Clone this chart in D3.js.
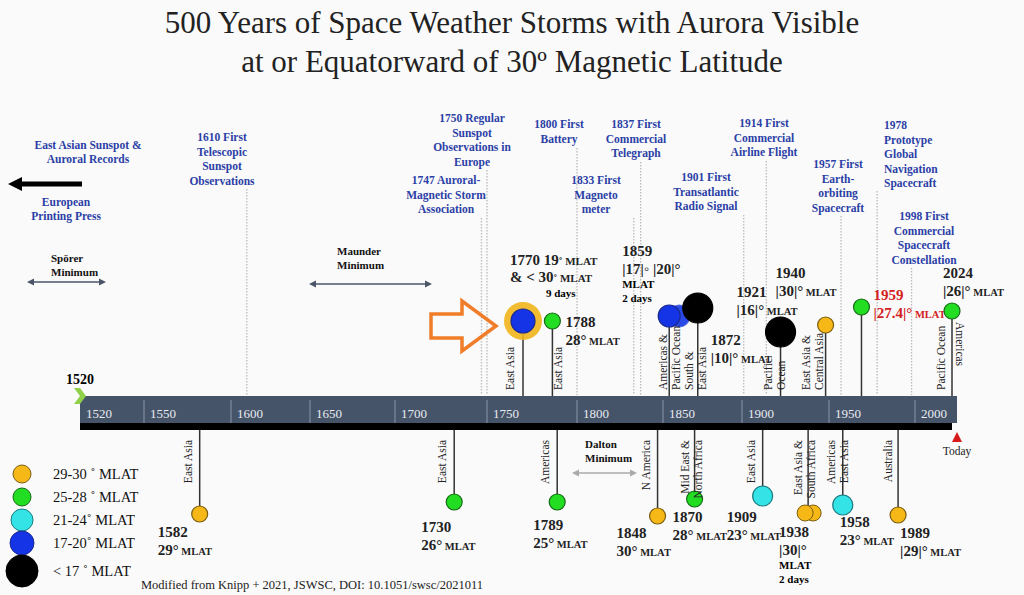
<!DOCTYPE html>
<html><head><meta charset="utf-8">
<script src="https://cdn.jsdelivr.net/npm/d3@7"></script>
<style>body{margin:0;background:#fafafa}</style>
</head><body><div id="chart"></div>
<script>
// axis ticks
const tickYears = [1550, 1600, 1650, 1700, 1750, 1800, 1850, 1900, 1950, 2000];
const firstYear = 1520, lastYear = 2024;

// storms: year, label lines, colour class, above/below bar
const stormYears = [1582, 1730, 1770, 1788, 1789, 1848, 1859, 1870, 1872, 1909, 1921, 1938, 1940, 1958, 1959, 1989, 2024];
const stormMlat = ["29° MLAT", "26° MLAT", "19° MLAT", "28° MLAT", "25° MLAT", "30° MLAT", "|17|◦ |20|°", "28° MLAT", "|10|° MLAT",
  "23° MLAT", "|16|° MLAT", "|30|°", "|30|° MLAT", "23° MLAT", "|27.4|° MLAT", "|29|° MLAT", "|26|° MLAT"];
const stormClass = [0, 1, 3, 1, 1, 0, 3, 1, 4, 2, 4, 0, 0, 2, 1, 0, 1];
const stormSide = ["down", "down", "up", "up", "down", "down", "up", "down", "up", "down", "up", "down", "up", "down", "up", "down", "up"];
const stormRegion = [["East Asia"], ["East Asia"], ["East Asia"], ["East Asia"], ["Americas"], ["N America"], ["Americas &", "Pacific Ocean"],
  ["Mid East &", "North Africa"], ["South &", "East Asia"], ["East Asia"], ["Pacific", "Ocean"], ["East Asia &", "South Africa"],
  ["East Asia &", "Central Asia"], ["Americas", "East Asia"], [], ["Australia"], ["Pacific Ocean", "Americas"]];

// legend
const legendLabels = ["29-30 ˚ MLAT", "25-28 ˚ MLAT", "21-24˚ MLAT", "17-20˚ MLAT", "< 17 ˚ MLAT"];
const legendColors = ["#f5b817", "#22dd22", "#33e3e6", "#1434e6", "#000000"];

// technology milestones
const techYears = [1610, 1747, 1750, 1800, 1833, 1837, 1901, 1914, 1957, 1978, 1998];
const techLabels = [["1610 First", "Telescopic", "Sunspot", "Observations"], ["1747  Auroral-", "Magnetic Storm", "Association"],
  ["1750  Regular", "Sunspot", "Observations in", "Europe"], ["1800 First", "Battery"], ["1833 First", "Magneto", "meter"],
  ["1837 First", "Commercial", "Telegraph"], ["1901 First", "Transatlantic", "Radio Signal"], ["1914 First", "Commercial", "Airline Flight"],
  ["1957 First", "Earth-", "orbiting", "Spacecraft"], ["1978", "Prototype", "Global", "Navigation", "Spacecraft"],
  ["1998  First", "Commercial", "Spacecraft", "Constellation"]];

// layout (pixel placement only)
const W = 1024, H = 595, barTop = 396, barMid = 423, barBot = 430;
const stormLayout = [ // dx nudge, circle y, radius, label x offset, label y, region x offset
  {dx: 0, cy: 514, r: 8, lx: -42, ly: 537, rx: -8},
  {dx: 4, cy: 502, r: 8, lx: -33, ly: 532, rx: -8},
  {dx: 0, cy: 321, r: 12, lx: -13, ly: 265, rx: -9},
  {dx: -3, cy: 321, r: 8, lx: 13, ly: 327, rx: 10},
  {dx: 0, cy: 502, r: 8, lx: -24, ly: 530, rx: -8},
  {dx: -2, cy: 516, r: 8, lx: -41, ly: 538, rx: -8},
  {dx: -8, cy: 316, r: 11, lx: -47, ly: 256, rx: -2},
  {dx: 0, cy: 499, r: 8, lx: -22, ly: 522, rx: -6},
  {dx: 0, cy: 308, r: 15, lx: 13, ly: 345, rx: -5},
  {dx: 5, cy: 496, r: 10, lx: -36, ly: 522, rx: -8},
  {dx: 2, cy: 332, r: 15, lx: -44, ly: 297, rx: -9},
  {dx: 0, cy: 513, r: 8, lx: -29, ly: 537, rx: -6},
  {dx: 14, cy: 325, r: 8, lx: -50, ly: 278, rx: -16},
  {dx: 0, cy: 505, r: 10, lx: -3, ly: 527, rx: -8},
  {dx: 17, cy: 307, r: 8, lx: 12, ly: 300, rx: 0},
  {dx: 2, cy: 515, r: 8, lx: 2, ly: 538, rx: -6},
  {dx: -5, cy: 311, r: 8, lx: -9, ly: 278, rx: -7}
];
const techLayout = [ // text centre x, first line y
  {x: 222, y: 141}, {x: 446, y: 184}, {x: 472, y: 122}, {x: 559, y: 128},
  {x: 596, y: 184}, {x: 636, y: 128}, {x: 706, y: 181}, {x: 764, y: 127},
  {x: 838, y: 168}, {x: 884, y: 129, left: true}, {x: 924, y: 220}
];

const x = d3.scaleLinear()
  .domain([1520, 1550, 1600, 1650, 1700, 1750, 1800, 1850, 1900, 1950, 2000, 2024])
  .range([80, 144, 231, 310, 395, 487, 577, 663, 742, 829, 915, 957]);

const svg = d3.select("#chart").append("svg").attr("width", W).attr("height", H)
  .attr("font-family", "'Liberation Serif', 'DejaVu Serif', serif")
  .style("background", "#fafafa");

// title
svg.append("text").attr("x", 512).attr("y", 33).attr("text-anchor", "middle").attr("font-size", 31)
  .attr("fill", "#222").text("500 Years of  Space Weather Storms with Aurora Visible");
svg.append("text").attr("x", 512).attr("y", 72).attr("text-anchor", "middle").attr("font-size", 31)
  .attr("fill", "#222").text("at or Equatorward of 30º Magnetic Latitude");

const blue = "#2b3fa6";
// tech milestones
techYears.forEach((yr, i) => {
  const L = techLayout[i], xx = x(yr);
  const n = techLabels[i].length;
  svg.append("line").attr("x1", xx).attr("x2", xx).attr("y1", L.y + (n - 1) * 14 + 6).attr("y2", 395)
    .attr("stroke", "#bbb").attr("stroke-width", 1.3).attr("stroke-dasharray", "1.5,1.5");
  const t = svg.append("text").attr("font-size", 11.5).attr("font-weight", "bold").attr("fill", blue)
    .attr("text-anchor", L.left ? "start" : "middle");
  techLabels[i].forEach((s, j) => t.append("tspan").attr("x", L.x).attr("y", L.y + j * 14.5).text(s));
});

// early records
const early = svg.append("g").attr("font-size", 11.5).attr("font-weight", "bold").attr("fill", blue).attr("text-anchor", "middle");
early.append("text").attr("x", 88).attr("y", 149).text("East Asian Sunspot &");
early.append("text").attr("x", 88).attr("y", 163).text("Auroral Records");
early.append("text").attr("x", 66).attr("y", 206).text("European");
early.append("text").attr("x", 66).attr("y", 220).text("Printing Press");
svg.append("line").attr("x1", 82).attr("x2", 20).attr("y1", 184).attr("y2", 184).attr("stroke", "#000").attr("stroke-width", 5);
svg.append("path").attr("d", "M8,184 L22,177 L22,191 Z").attr("fill", "#000");

// minima
function minimum(lines, tx, ty, x1, x2, ay, col) {
  lines.forEach((s, j) => svg.append("text").attr("x", tx).attr("y", ty + j * 14).attr("font-size", 11)
    .attr("font-weight", "bold").attr("fill", "#111").text(s));
  svg.append("line").attr("x1", x1 + 6).attr("x2", x2 - 6).attr("y1", ay).attr("y2", ay).attr("stroke", col).attr("stroke-width", 1.5);
  svg.append("path").attr("d", `M${x1},${ay} l7,-3.5 v7 Z M${x2},${ay} l-7,-3.5 v7 Z`).attr("fill", col);
}
minimum(["Spörer", "Minimum"], 51, 262, 27, 106, 282, "#4a5668");
minimum(["Maunder", "Minimum"], 337, 255, 309, 432, 284, "#4a5668");
minimum(["Dalton", "Minimum"], 585, 448, 572, 637, 473, "#aaa");

// bar
svg.append("rect").attr("x", 80).attr("y", barTop).attr("width", x(lastYear) - 80).attr("height", barMid - barTop).attr("fill", "#46546a");
svg.append("rect").attr("x", 80).attr("y", barMid).attr("width", x(lastYear) - 80 - 5).attr("height", barBot - barMid).attr("fill", "#000");
const axisG = svg.append("g");
axisG.append("text").attr("x", 86).attr("y", 418).attr("font-size", 13).attr("fill", "#e8ebf0").text(firstYear);
tickYears.forEach(yr => {
  axisG.append("line").attr("x1", x(yr)).attr("x2", x(yr)).attr("y1", barTop + 4).attr("y2", barMid).attr("stroke", "#8a95a6");
  axisG.append("text").attr("x", x(yr) + 6).attr("y", 418).attr("font-size", 13).attr("fill", "#e8ebf0").text(yr);
});
// start marker
svg.append("path").attr("d", `M${x(firstYear) - 6},388 L${x(firstYear)},388 L${x(firstYear) + 6},396 L${x(firstYear)},404 L${x(firstYear) - 6},404 L${x(firstYear)},396 Z`)
  .attr("fill", "#8fcf4a");
svg.append("text").attr("x", 66).attr("y", 384).attr("font-size", 14).attr("font-weight", "bold").text(firstYear);
// today
svg.append("path").attr("d", `M${x(lastYear)},432 l-5,10 h10 Z`).attr("fill", "#d61a1a");
svg.append("text").attr("x", x(lastYear)).attr("y", 455).attr("text-anchor", "middle").attr("font-size", 11.5).attr("fill", "#222").text("Today");

// storms
const strokeCol = ["#7a5d10", "#166a16", "#1b7a80", "#1a2a90", "#000"];
stormYears.forEach((yr, i) => {
  const L = stormLayout[i], sx = x(yr) + L.dx, up = stormSide[i] === "up";
  const g = svg.append("g");
  g.append("line").attr("x1", sx).attr("x2", sx).attr("y1", up ? barTop : barBot).attr("y2", L.cy)
    .attr("stroke", "#333").attr("stroke-width", 1.5);
  const c = stormClass[i];
  if (yr === 1770) {
    g.append("circle").attr("cx", sx).attr("cy", L.cy).attr("r", 19).attr("fill", "#f0b51c").attr("opacity", 0.9);
  }
  if (yr === 1859) {
    g.append("circle").attr("cx", sx + 10).attr("cy", L.cy).attr("r", L.r).attr("fill", "#2a4ae8").attr("stroke", "#5a70e0");
  }
  if (yr === 1938) {
    g.append("circle").attr("cx", sx + 5).attr("cy", L.cy).attr("r", L.r).attr("fill", legendColors[c]).attr("stroke", strokeCol[c]);
    g.append("circle").attr("cx", sx - 3).attr("cy", L.cy).attr("r", L.r).attr("fill", legendColors[c]).attr("stroke", strokeCol[c]);
  } else {
    g.append("circle").attr("cx", sx).attr("cy", L.cy).attr("r", L.r).attr("fill", legendColors[c]).attr("stroke", strokeCol[c]).attr("stroke-width", 1.2);
  }
  // region labels (vertical)
  stormRegion[i].forEach((s, j) => {
    const rxx = sx + L.rx + j * 13;
    const flip = yr === 2024 && j === 1;
    g.append("text").attr("font-size", 11.5).attr("fill", "#222")
      .attr("transform", flip ? `translate(${sx + 4},${322}) rotate(90)` : `translate(${rxx},${up ? 390 : 440}) rotate(-90)`)
      .attr("text-anchor", up || flip ? "start" : "end").text(s);
  });
  // year / MLAT labels
  const red = yr === 1959, col = red ? "#d32020" : "#222";
  const t = g.append("text").attr("font-weight", "bold").attr("fill", col);
  const lx = sx + L.lx;
  t.append("tspan").attr("x", lx).attr("y", L.ly).attr("font-size", 15).text(yr + (yr === 1770 ? "  " : ""));
  if (yr === 1770) {
    t.append("tspan").attr("font-size", 15).text("19");
    t.append("tspan").attr("font-size", 11).text("˚ MLAT");
    const t2 = g.append("text").attr("font-weight", "bold").attr("fill", col).attr("x", lx).attr("y", L.ly + 17);
    t2.append("tspan").attr("font-size", 15).text("& < 30");
    t2.append("tspan").attr("font-size", 11).text("˚ MLAT");
    g.append("text").attr("x", lx + 36).attr("y", L.ly + 32).attr("font-size", 11).attr("font-weight", "bold").text("9 days");
    return;
  }
  const m = stormMlat[i], k = m.indexOf(" MLAT");
  const t2 = g.append("text").attr("font-weight", "bold").attr("fill", col).attr("x", lx).attr("y", L.ly + 18);
  t2.append("tspan").attr("font-size", 15).text(k >= 0 ? m.slice(0, k) : m);
  if (k >= 0) t2.append("tspan").attr("font-size", 10.5).text(" MLAT");
  if (yr === 1859 || yr === 1938) {
    g.append("text").attr("x", lx).attr("y", L.ly + 32).attr("font-size", 11).attr("font-weight", "bold").text("MLAT");
    g.append("text").attr("x", lx).attr("y", L.ly + 46).attr("font-size", 11).attr("font-weight", "bold").text("2 days");
  }
});

// highlight arrow
svg.append("path").attr("d", "M431,314 H462 V301 L496,326 L462,351 V338 H431 Z")
  .attr("fill", "none").attr("stroke", "#f07d2a").attr("stroke-width", 3.5);

// legend
const legY = [474, 497, 520, 543, 571], legR = [9, 9, 11, 12, 16];
legendLabels.forEach((s, i) => {
  svg.append("circle").attr("cx", 22).attr("cy", legY[i]).attr("r", legR[i]).attr("fill", legendColors[i]).attr("stroke", strokeCol[i]);
  svg.append("text").attr("x", 53).attr("y", legY[i] + 5).attr("font-size", 14.5).attr("fill", "#111").text(s);
});
svg.append("text").attr("x", 141).attr("y", 589).attr("font-size", 12.5).attr("fill", "#222")
  .text("Modified from Knipp + 2021, JSWSC, DOI: 10.1051/swsc/2021011");
</script></body></html>
